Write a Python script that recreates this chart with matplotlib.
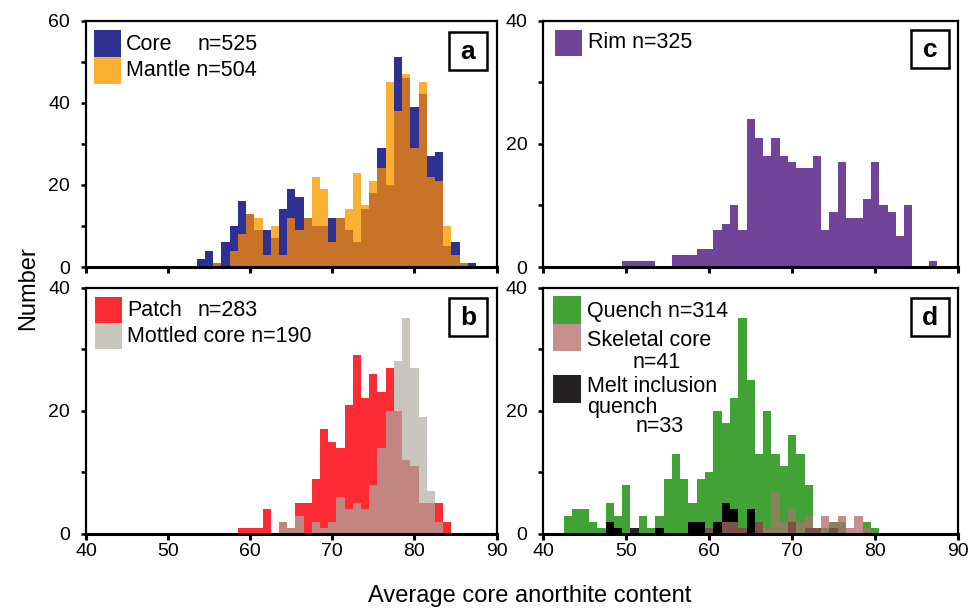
import numpy as np
import matplotlib
matplotlib.use('Agg')
import matplotlib.pyplot as plt
from matplotlib.patches import Rectangle

plt.rcParams['font.family'] = ['Liberation Sans', 'DejaVu Sans']

# ---------------- data (counts per 1-An bin, bins centred on integers) ----------------
a_bins = list(range(54, 88))
core = [2, 4, 1, 6, 10, 16, 13, 9, 9, 7, 14, 19, 17, 12, 10, 10, 12, 12, 9, 6,
        14, 18, 29, 20, 51, 46, 39, 42, 27, 28, 5, 6, 1, 1]
mantle = [0, 0, 1, 0, 4, 8, 13, 12, 3, 10, 3, 12, 9, 12, 22, 19, 6, 12, 14, 23,
          15, 21, 24, 45, 38, 47, 29, 45, 22, 21, 10, 3, 1, 0]

b_bins = list(range(59, 85))
patch = [1, 1, 1, 4, 0, 2, 1, 5, 5, 9, 17, 15, 14, 21, 29, 22, 26, 23, 27, 20,
         12, 11, 5, 5, 5, 2]
mottled = [0, 0, 0, 0, 0, 2, 1, 3, 0, 2, 1, 2, 6, 4, 5, 4, 8, 14, 20, 28,
           35, 27, 19, 7, 2, 0]

c_bins = list(range(50, 88))
rim = [1, 1, 1, 1, 0, 0, 2, 2, 2, 3, 3, 6, 7, 10, 6, 24, 21, 18, 21, 18,
       17, 16, 16, 18, 6, 9, 17, 8, 8, 11, 17, 10, 9, 5, 10, 0, 0, 1]

d_bins = list(range(43, 81))
quench = [3, 4, 4, 2, 1, 5, 3, 8, 0, 3, 1, 3, 9, 13, 9, 5, 9, 10, 20, 18,
          22, 35, 25, 13, 20, 13, 11, 16, 13, 8, 0, 1, 2, 2, 0, 0, 2, 1]
skeletal = [0, 0, 0, 0, 0, 0, 0, 0, 0, 0, 0, 0, 0, 0, 0, 0, 0, 1, 0, 2,
            2, 1, 0, 2, 1, 7, 2, 4, 2, 3, 1, 3, 2, 3, 1, 3, 1, 0]
melt = [0, 0, 0, 0, 0, 2, 1, 0, 1, 0, 0, 1, 0, 0, 0, 2, 2, 1, 2, 5,
        4, 1, 4, 2, 0, 0, 0, 2, 0, 1, 1, 0, 1, 0, 0, 0, 0, 0]

x_ticks = [40, 50, 60, 70, 80, 90]

# ---------------- colours ----------------
C_CORE = '#2E3192'
C_MANT = '#FBB034'
C_AOV = '#C87328'
C_RIM = '#714499'
C_PATCH = '#FF2B34'
C_MOTT = '#C8C6BD'
C_BOV = '#C28581'
C_QUE = '#41A336'
C_SKEL = '#C48F8C'
C_MELT = '#262223'
C_QS = '#8C805D'
C_QM = '#000000'
C_MS = '#79524B'

W, H = 971, 611
fig = plt.figure(figsize=(W / 100, H / 100), dpi=100)


def add_ax(l, t, r, b):
    return fig.add_axes([l / W, 1 - b / H, (r - l) / W, (b - t) / H])


def fx(x):
    return x / W


def fy(y):
    return 1 - y / H


def style(ax, ymax, labelx):
    ax.set_xlim(40, 90)
    ax.set_ylim(0, ymax)
    ax.set_xticks(x_ticks)
    ax.set_yticks(np.arange(0, ymax + 1, 20))
    ax.set_yticks(np.arange(10, ymax, 20), minor=True)
    for s in ax.spines.values():
        s.set_linewidth(1.6)
    ax.spines['bottom'].set_linewidth(2.2)
    ax.tick_params(axis='y', which='both', direction='out', length=3.5, width=1.8,
                   labelsize=14, pad=8)
    ax.tick_params(axis='x', which='both', direction='out', length=4.5, width=2.2,
                   labelsize=14, pad=2, labelbottom=labelx)
    ax.set_facecolor('white')


def bars(ax, x, h, color):
    ax.bar(x, h, width=1.0, color=color, linewidth=0, align='center')


axa = add_ax(86, 20.5, 496.5, 267)
axb = add_ax(86, 287.5, 496.5, 534)
axc = add_ax(543.3, 20.5, 958, 267)
axd = add_ax(543.3, 287.5, 958, 534)

# panel a
bars(axa, a_bins, core, C_CORE)
bars(axa, a_bins, mantle, C_MANT)
bars(axa, a_bins, np.minimum(core, mantle), C_AOV)
style(axa, 60, False)

# panel b
bars(axb, b_bins, patch, C_PATCH)
bars(axb, b_bins, mottled, C_MOTT)
bars(axb, b_bins, np.minimum(patch, mottled), C_BOV)
style(axb, 40, True)

# panel c
bars(axc, c_bins, rim, C_RIM)
style(axc, 40, False)

# panel d
q = np.array(quench); s = np.array(skeletal); m = np.array(melt)
bars(axd, d_bins, q, C_QUE)
bars(axd, d_bins, s, C_SKEL)
bars(axd, d_bins, np.minimum(q, s), C_QS)
bars(axd, d_bins, m, C_MELT)
bars(axd, d_bins, np.minimum(m, q), C_QM)
bars(axd, d_bins, np.minimum(m, s), C_MS)
style(axd, 40, True)


# ---------------- panel letters ----------------
def letter_box(x0, y0, letter, size=38):
    fig.add_artist(Rectangle((fx(x0), fy(y0 + size)), size / W, size / H,
                             transform=fig.transFigure, facecolor='white',
                             edgecolor='black', linewidth=1.8, zorder=10))
    fig.text(fx(x0 + size / 2), fy(y0 + size / 2 + 1), letter, ha='center', va='center',
             fontsize=19, fontweight='bold', zorder=11)


letter_box(449, 32, 'a')
letter_box(449, 298, 'b')
letter_box(911, 30, 'c')
letter_box(911, 298, 'd')


# ---------------- legends ----------------
def swatch(x0, y0, w, h, color):
    fig.add_artist(Rectangle((fx(x0), fy(y0 + h)), w / W, h / H,
                             transform=fig.transFigure, facecolor=color,
                             edgecolor='none', zorder=10))


def label(x, y, s):
    fig.text(fx(x), fy(y), s, ha='left', va='center', fontsize=15.5, zorder=11)


swatch(94, 30, 27, 27, C_CORE)
swatch(94, 57, 27, 27, C_MANT)
label(126, 44, 'Core')
label(198, 44, 'n=525')
label(126, 71, 'Mantle n=504')

swatch(95, 297, 27, 26, C_PATCH)
swatch(95, 323, 27, 26, C_MOTT)
label(127, 310, 'Patch')
label(198, 310, 'n=283')
label(127, 336, 'Mottled core n=190')

swatch(555, 30, 27, 26, C_RIM)
label(588, 43, 'Rim n=325')

swatch(553, 296, 28, 27.5, C_QUE)
swatch(553, 323.5, 28, 27.5, C_SKEL)
swatch(553, 375, 28, 27.5, C_MELT)
label(587, 312, 'Quench n=314')
label(587, 340, 'Skeletal core')
label(633, 362, 'n=41')
label(587, 387, 'Melt inclusion')
label(587, 407, 'quench')
label(636, 427, 'n=33')

# ---------------- axis titles ----------------
fig.text(fx(28), fy(288), 'Number', rotation=90, ha='center', va='center', fontsize=17)
fig.text(fx(530), fy(596), 'Average core anorthite content', ha='center', va='center',
         fontsize=17)

fig.savefig('out.png', dpi=100, facecolor='white')
